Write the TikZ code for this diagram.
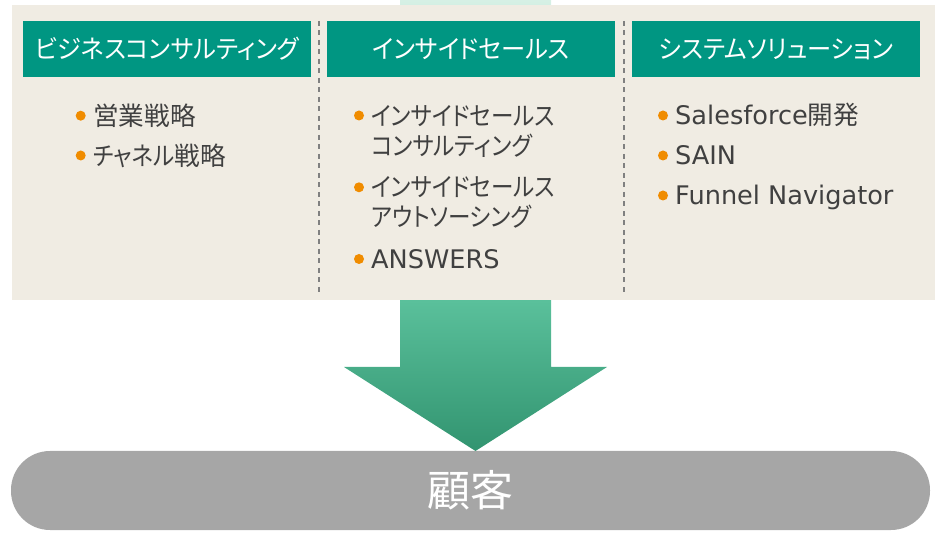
\documentclass[tikz,border=0pt]{standalone}
\usepackage{fontspec}
\setmainfont{DejaVu Sans}
\newfontfamily\jp{Noto Sans CJK JP}[RawFeature=+palt]
\newfontfamily\jpk{Noto Sans CJK JP}[RawFeature=+palt, FakeStretch=0.88]
\newfontfamily\jph{Noto Sans CJK JP}[RawFeature=+palt, FakeStretch=0.95]
\definecolor{panelbg}{RGB}{240,236,227}
\definecolor{hdrteal}{RGB}{0,150,130}
\definecolor{dotorange}{RGB}{240,140,0}
\definecolor{itemtext}{RGB}{64,64,64}
\definecolor{divgray}{RGB}{128,128,128}
\definecolor{pillgray}{RGB}{166,166,166}
\definecolor{adark}{RGB}{50,148,112}
\definecolor{amid}{RGB}{90,192,155}
\definecolor{alight}{RGB}{214,240,229}
\pgfdeclareverticalshading{arrowshade}{100bp}{color(0bp)=(adark); color(25bp)=(adark); color(41.7bp)=(amid); color(75bp)=(alight); color(100bp)=(alight)}
\begin{document}
\begin{tikzpicture}[x=1pt,y=-1pt,
  hdr/.style={fill=hdrteal, text=white, minimum width=288pt, minimum height=56pt, inner sep=0pt, font=\jph\fontsize{25.5}{30}\selectfont},
  item/.style={anchor=base west, inner sep=0pt, text=itemtext, font=\fontsize{25.6}{30}\selectfont},
  dot/.style={circle, fill=dotorange, minimum size=10pt, inner sep=0pt},
  divider/.style={draw=divgray, line width=1.5pt, dash pattern=on 5pt off 4.5pt},
  pill/.style={fill=pillgray, text=white, minimum width=919pt, minimum height=79pt, rounded corners=39pt, inner sep=0pt, font=\jp\fontsize{43}{50}\selectfont}
]
\useasboundingbox (0,0) rectangle (935,534);
% arrow behind the panel
\shade[shading=arrowshade] (400,0) -- (551,0) -- (551,367) -- (607,367) -- (475.5,451) -- (344,367) -- (400,367) -- cycle;
% panel
\fill[panelbg] (12,5) rectangle (935,300);
% dividers
\coordinate (d1t) at (319,21); \coordinate (d1b) at (319,292);
\coordinate (d2t) at (624,21); \coordinate (d2b) at (624,292);
\draw[divider] (d1t) -- (d1b);
\draw[divider] (d2t) -- (d2b);
% headers
\node[hdr] (h1) at (167,49) {ビジネスコンサルティング};
\node[hdr] (h2) at (471,49) {インサイドセールス};
\node[hdr] (h3) at (776,49) {システムソリューション};
% column 1
\node[dot] (p1) at (80.7,115.7) {};
\node[item] (a1) at (93,125.5) {\jp 営業戦略};
\node[dot] (p2) at (80.7,155.5) {};
\node[item] (a2) at (93,165.5) {{\jpk チャネル}{\jp 戦略}};
% column 2
\node[dot] (p3) at (359,115.5) {};
\node[item] (b1) at (371,125.5) {\jpk インサイドセールス};
\node[item] (b1b) at (371,155.5) {\jpk コンサルティング};
\node[dot] (p4) at (359,187.3) {};
\node[item] (b2) at (371,196.5) {\jpk インサイドセールス};
\node[item] (b2b) at (371,226.5) {\jpk アウトソーシング};
\node[dot] (p5) at (359,259) {};
\node[item] (b3) at (371,268.5) {ANSWERS};
% column 3
\node[dot] (p6) at (663,115.5) {};
\node[item] (c1) at (675,124.5) {Salesforce{\jp 開発}};
\node[dot] (p7) at (663,155.5) {};
\node[item] (c2) at (675,164.5) {SAIN};
\node[dot] (p8) at (663,195.5) {};
\node[item] (c3) at (675,204.7) {Funnel Navigator};
% customer bar
\node[pill] (cust) at (470.5,490.5) {顧客};
\end{tikzpicture}
\end{document}
